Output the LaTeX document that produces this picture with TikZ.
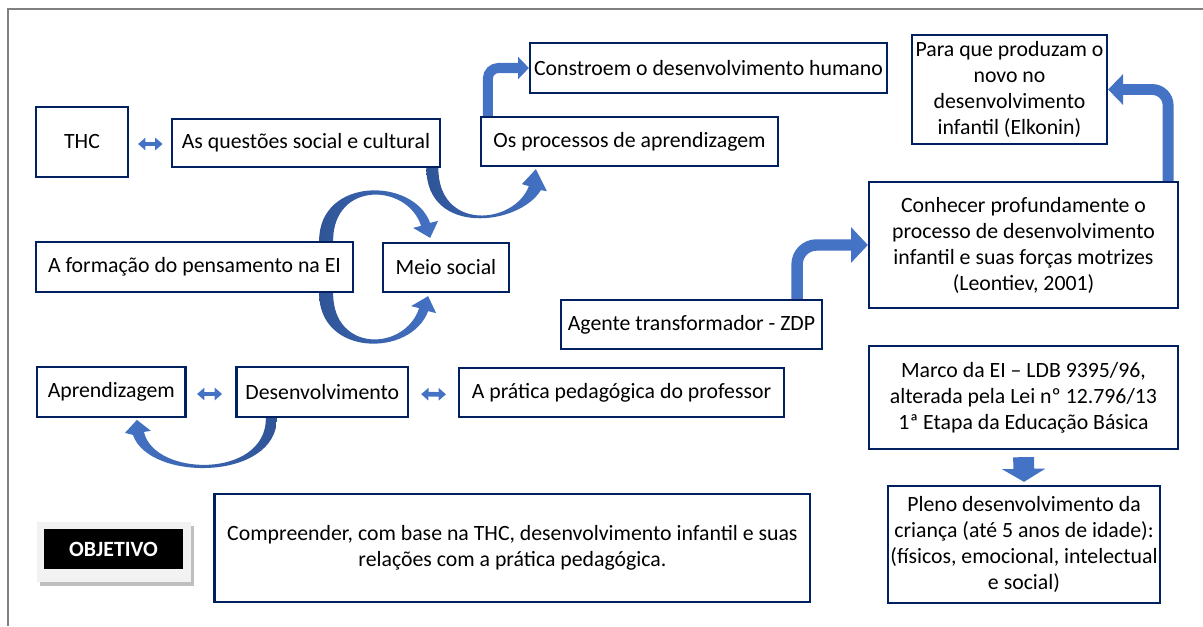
\documentclass[tikz,border=0pt]{standalone}
\usepackage{fontspec}
\setmainfont{Carlito}
\usetikzlibrary{calc,arrows.meta,shadows}

\begin{document}
\begin{tikzpicture}[x=0.02cm, y=-0.02cm,
    box/.style={draw=boxblue, line width=1.3pt, fill=white, inner sep=0pt,
      align=center, font=\fontsize{12.4}{14.8}\selectfont},
    twoway/.style={draw=arrowblue, line width=2.6pt,
      {Triangle[width=7pt,length=4.2pt]}-{Triangle[width=7pt,length=4.2pt]}},
    bentarrow/.style={draw=arrowblue, line cap=butt},
    curvyright/.style={left color=arrowdark, right color=arrowblue},
    curvyleft/.style={left color=arrowblue, right color=arrowdark}]

      % Define colors
      \definecolor{boxblue}{RGB}{0,32,96}
      \definecolor{arrowblue}{RGB}{68,114,196}
      \definecolor{arrowdark}{RGB}{47,85,151}
      \definecolor{framegray}{RGB}{128,128,128}
      \definecolor{panelgray}{RGB}{242,242,242}

      \useasboundingbox (0,0) rectangle (1203,626);

      % Frame
      \draw[framegray, line width=1.1pt] (8,626) -- (8,9) -- (1203,9);

      % Top row
      \node[box, minimum width=1.84cm, minimum height=1.40cm] (thc) at (82,142) {THC};
      \node[box, minimum width=5.37cm, minimum height=0.96cm] (qsc) at (306,143) {As questões social e cultural};
      \node[box, minimum width=5.94cm, minimum height=0.98cm] (proc) at (629.5,141.5) {Os processos de aprendizagem};
      \node[box, minimum width=7.14cm, minimum height=1.00cm] (cons) at (708.5,68) {Constroem o desenvolvimento humano};
      \node[box, minimum width=3.90cm, minimum height=2.18cm] (para) at (1009.5,89.5) {Para que produzam o\\novo no\\desenvolvimento\\infantil (Elkonin)};
      \node[box, minimum width=6.18cm, minimum height=2.52cm] (conh) at (1023.5,245) {Conhecer profundamente o\\processo de desenvolvimento\\infantil e suas forças motrizes\\(Leontiev, 2001)};

      % Middle row
      \node[box, minimum width=6.34cm, minimum height=1.00cm] (form) at (194.5,267) {A formação do pensamento na EI};
      \node[box, minimum width=2.51cm, minimum height=0.98cm] (meio) at (446,267.5) {Meio social};
      \node[box, minimum width=5.22cm, minimum height=0.98cm] (agent) at (691.5,324.5) {Agente transformador - ZDP};

      % Lower row
      \node[box, minimum width=2.97cm, minimum height=0.99cm] (apr) at (111.3,392) {Aprendizagem};
      \node[box, minimum width=3.43cm, minimum height=1.00cm] (desv) at (322.3,392) {Desenvolvimento};
      \node[box, minimum width=6.50cm, minimum height=0.98cm] (prat) at (621.5,392.5) {A prática pedagógica do professor};
      \node[box, minimum width=6.18cm, minimum height=2.06cm] (marco) at (1023.5,397.5) {Marco da EI – LDB 9395/96,\\alterada pela Lei nº 12.796/13\\1ª Etapa da Educação Básica};
      \node[box, minimum width=5.44cm, minimum height=2.34cm] (pleno) at (1024,544.5) {Pleno desenvolvimento da\\criança (até 5 anos de idade):\\(físicos, emocional, intelectual\\e social)};

      % Objective
      \node[fill=panelgray, minimum width=3.08cm, minimum height=1.20cm,
        drop shadow={shadow xshift=1.5pt, shadow yshift=-2.5pt, fill=black!25, opacity=1}] (objp) at (114,552) {};
      \node[fill=black, text=white, minimum width=2.78cm, minimum height=0.80cm,
        font=\fontsize{12.4}{14.8}\selectfont\bfseries] (objt) at (113.5,549) {OBJETIVO};
      \node[box, minimum width=11.92cm, minimum height=2.16cm] (obj) at (512.4,548) {Compreender, com base na THC, desenvolvimento infantil e suas\\relações com a prática pedagógica.};

      % Two-way arrows
      \draw[twoway, shorten <=5.1pt, shorten >=4.6pt] ($(thc.east)+(0,2)$) -- ($(qsc.west |- thc.east)+(0,2)$);
      \draw[twoway, shorten <=5.9pt, shorten >=7.6pt] ($(apr.east)+(0,2)$) -- ($(desv.west)+(0,2)$);
      \draw[twoway, shorten <=6.8pt, shorten >=6.8pt] ($(desv.east)+(0,2)$) -- ($(prat.west)+(0,2)$);

      % Bent arrows
      \draw[bentarrow, line width=5.7pt, rounded corners=6pt, -{Triangle[width=12.5pt,length=6.2pt]}]
        ($(proc.north west)+(8,0)$) |- (cons.west);
      \draw[bentarrow, line width=6.5pt, rounded corners=11pt, -{Triangle[width=19.8pt,length=9.6pt]}]
        ($(agent.north east)+(-26,0)$) |- (conh.west);
      \draw[bentarrow, line width=6.2pt, rounded corners=9pt, -{Triangle[width=17pt,length=8.5pt]}]
        ($(conh.north east)+(-11,0)$) |- (para.east);
      \draw[bentarrow, line width=11.9pt, shorten <=4pt, -{Triangle[width=24.4pt,length=7.4pt]}]
        (marco.south) -- ($(pleno.north)+(0,-3)$);

      % Curved arrows
      \coordinate (qsc-t) at ($(qsc.south east)+(-9,0)$);
      \coordinate (proc-h) at ($(proc.south west)+(56,2)$);
      \shade[curvyright] ($(qsc-t)+(-6,0)$) .. controls +(0,68) and +(-22,36) .. ($(proc-h)+(5,21)$)
        -- ++(6,1) -- (proc-h) -- ++(-14,15) -- ++(7,2)
        .. controls +(-15,39) and +(0,63) .. ($(qsc-t)+(6,0)$) -- cycle;

      \coordinate (form-t) at ($(form.north east)+(-28,0)$);
      \coordinate (meio-t) at ($(meio.north west)+(48,-4)$);
      \shade[curvyright] ($(form-t)+(-7,0)$) .. controls +(0,-64) and +(-17,-46) .. ($(meio-t)+(0,-15)$)
        -- ++(8,-2) -- (meio-t) -- ++(-17,-10) -- ++(8,-2)
        .. controls +(-14,-43) and +(0,-60) .. ($(form-t)+(7,0)$) -- cycle;

      \coordinate (form-b) at ($(form.south east)+(-28,0)$);
      \coordinate (meio-b) at ($(meio.south west)+(46,3)$);
      \shade[curvyright] ($(form-b)+(-7,0)$) .. controls +(0,64) and +(-17,46) .. ($(meio-b)+(0,15)$)
        -- ++(8,2) -- (meio-b) -- ++(-17,10) -- ++(8,2)
        .. controls +(-14,43) and +(0,60) .. ($(form-b)+(7,0)$) -- cycle;

      \coordinate (desv-b) at ($(desv.south west)+(36,0)$);
      \coordinate (apr-b) at ($(apr.south west)+(101,2)$);
      \shade[curvyleft] ($(desv-b)+(5.5,0)$) .. controls +(0,63) and +(16,47) .. ($(apr-b)+(-4,15)$)
        -- ++(-8,-2) -- (apr-b) -- ++(14,11) -- ++(-7,1)
        .. controls +(10,45) and +(0,61) .. ($(desv-b)+(-5.5,0)$) -- cycle;

    \end{tikzpicture}
\end{document}
